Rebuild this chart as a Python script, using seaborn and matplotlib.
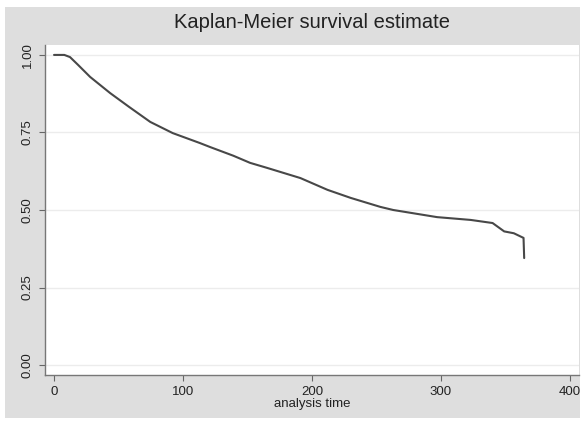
import matplotlib
matplotlib.use("Agg")
import matplotlib.pyplot as plt
from matplotlib.patches import Rectangle
import seaborn as sns
import pandas as pd

# Kaplan-Meier estimate
time = [0, 8, 12.4, 18.6, 28, 43.5, 58, 74.6, 92, 113, 121, 139, 152, 165,
        191, 212, 230, 253, 263, 297, 323, 340, 349, 356.5, 364, 364.5]
survival = [1.0, 1.0, 0.993, 0.968, 0.929, 0.877, 0.833, 0.784, 0.748, 0.716,
            0.703, 0.675, 0.652, 0.636, 0.603, 0.565, 0.539, 0.51, 0.50,
            0.477, 0.468, 0.458, 0.431, 0.425, 0.41, 0.345]
yticks = [0.0, 0.25, 0.5, 0.75, 1.0]
ytick_labels = ["0.00", "0.25", "0.50", "0.75", "1.00"]
xticks = [0, 100, 200, 300, 400]

df = pd.DataFrame({"t": time, "S": survival})

sns.set_style("white")
plt.rcParams["font.family"] = ["Liberation Sans", "DejaVu Sans"]

W, H = 582, 422
fig = plt.figure(figsize=(W / 100, H / 100), dpi=100, facecolor="white")
fig.patches.append(Rectangle((5 / W, 4 / H), 575 / W, (H - 11) / H,
                             transform=fig.transFigure, facecolor="#dedede",
                             edgecolor="none", zorder=-10))
ax = fig.add_axes([45 / W, (H - 375) / H, 534 / W, 330 / H])
ax.set_zorder(5)
ax.set_facecolor("white")

sns.lineplot(data=df, x="t", y="S", ax=ax, color="#484848", linewidth=1.5,
             estimator=None, sort=False)

ax.set_xlim(-7, 407)
ax.set_ylim(-0.032, 1.032)
ax.set_yticks(yticks)
ax.set_yticklabels(ytick_labels, rotation=90, va="center")
ax.set_xticks(xticks)
ax.tick_params(axis="both", length=4, width=0.8, color="#666666",
               labelsize=9.5, labelcolor="#222222", direction="out",
               bottom=True, left=True)
ax.tick_params(axis="x", pad=4)
ax.tick_params(axis="y", pad=4)
for y in yticks:
    ax.axhline(y, color="#ececec", linewidth=1.0, zorder=0)

for s in ["top", "right"]:
    ax.spines[s].set_visible(False)
for s in ["left", "bottom"]:
    ax.spines[s].set_color("#777777")
    ax.spines[s].set_linewidth(1.0)

ax.set_xlabel("analysis time", fontsize=9.5, color="#222222", labelpad=0)
ax.set_ylabel("")
fig.text(312 / W, 1 - 23 / H, "Kaplan-Meier survival estimate", ha="center",
         va="center", fontsize=14.5, color="#222222")

fig.savefig("out.png", dpi=100, facecolor="white")
